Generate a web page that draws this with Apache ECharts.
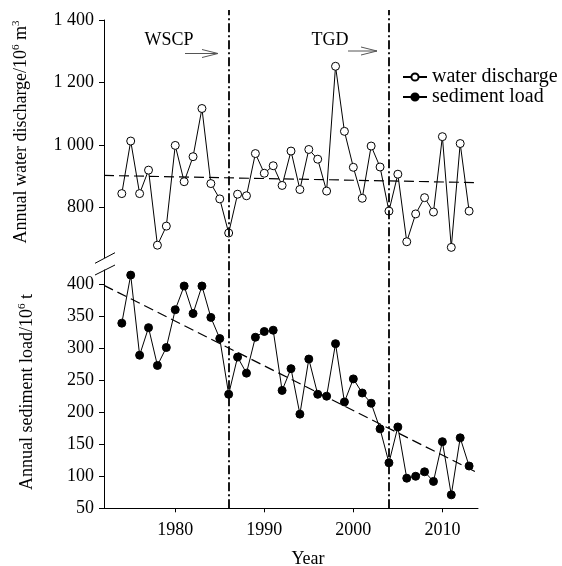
<!DOCTYPE html>
<html>
<head>
<meta charset="utf-8">
<script src="https://cdn.jsdelivr.net/npm/echarts@6/dist/echarts.min.js"></script>
<style>
  html, body { margin: 0; padding: 0; background: #fff; }
  #chart { width: 562px; height: 566px; }
</style>
</head>
<body>
<div id="chart"></div>
<script>
// values, 1974-2013
const years = [1974, 1975, 1976, 1977, 1978, 1979, 1980, 1981, 1982, 1983,
  1984, 1985, 1986, 1987, 1988, 1989, 1990, 1991, 1992, 1993,
  1994, 1995, 1996, 1997, 1998, 1999, 2000, 2001, 2002, 2003,
  2004, 2005, 2006, 2007, 2008, 2009, 2010, 2011, 2012, 2013]
const waterDischarge = [845, 1013, 845, 920, 680, 741, 999, 883, 963, 1117,
  877, 828, 719, 843, 838, 973, 910, 934, 871, 981,
  858, 986, 955, 853, 1252, 1044, 929, 830, 997, 930,
  789, 907, 691, 780, 832, 786, 1027, 673, 1005, 789]
const sedimentLoad = [339, 414, 289, 332, 273, 301, 360, 397, 354, 397,
  348, 315, 228, 286, 261, 317, 326, 328, 234, 268,
  197, 283, 228, 225, 307, 216, 252, 230, 214, 174,
  121, 177, 97, 100, 107, 92, 154, 71, 160, 116]
// linear trend ends
const trendYears = [1972, 2014]
const waterTrend = [903, 880]
const sedimentTrend = [398, 105]
// events (dash-dot lines)
const eventYears = [1986, 2004]
const eventNames = ['WSCP', 'TGD']
// tick labels
const yearTicks = [1980, 1990, 2000, 2010]
const waterTicks = [800, 1000, 1200, 1400]
const sedimentTicks = [50, 100, 150, 200, 250, 300, 350, 400]

const font = "'Liberation Serif', 'Times New Roman', serif"
const black = '#000'

function pairs(xs, ys) {
  return xs.map((x, i) => [x, ys[i]])
}

function thousands(v) {
  return v >= 1000 ? Math.floor(v / 1000) + ' ' + String(v % 1000).padStart(3, '0') : String(v)
}

function yAxisOf(grid, min, max, ticks) {
  return {
    type: 'value',
    gridIndex: grid,
    min: min,
    max: max,
    axisLine: { show: true, onZero: false, lineStyle: { color: black, width: 1 } },
    axisTick: { show: true, customValues: ticks, length: 5, lineStyle: { color: black } },
    axisLabel: { customValues: ticks, margin: 10, color: black, fontSize: 18, fontFamily: font, formatter: thousands },
    splitLine: { show: false }
  }
}

const chart = echarts.init(document.getElementById('chart'))

const sup = { fontSize: 11, fontFamily: font, color: black, verticalAlign: 'top', lineHeight: 12, padding: [0, 0, 0, 0] }
const base = { fontSize: 18, fontFamily: font, color: black, lineHeight: 20 }

const option = {
  animation: false,
  textStyle: { fontFamily: font },
  grid: [
    { left: 104, width: 374, top: 20, height: 237.7 },
    { left: 104, width: 374, top: 270, height: 238.3 },
    { left: 104, width: 374, top: 10, height: 498.3 }
  ],
  xAxis: [
    { type: 'value', gridIndex: 0, min: 1972, max: 2014, show: false },
    {
      type: 'value',
      gridIndex: 1,
      min: 1972,
      max: 2014,
      axisLine: { show: true, onZero: false, lineStyle: { color: black, width: 1 } },
      axisTick: { show: true, customValues: yearTicks, length: 4, lineStyle: { color: black } },
      axisLabel: { customValues: yearTicks, margin: 13, color: black, fontSize: 18, fontFamily: font, formatter: v => String(v) },
      splitLine: { show: false }
    },
    { type: 'value', gridIndex: 2, min: 1972, max: 2014, show: false }
  ],
  yAxis: [
    yAxisOf(0, 640, 1400, waterTicks),
    yAxisOf(1, 50, 422, sedimentTicks),
    { type: 'value', gridIndex: 2, min: 0, max: 1, show: false }
  ],
  legend: {
    orient: 'vertical',
    left: 397,
    top: 62,
    itemWidth: 24,
    itemHeight: 9,
    itemGap: 0,
    textStyle: { fontSize: 20, fontFamily: font, color: black, lineHeight: 19 },
    data: ['water discharge', 'sediment load']
  },
  series: [
    {
      name: 'water discharge',
      type: 'line',
      xAxisIndex: 0,
      yAxisIndex: 0,
      data: pairs(years, waterDischarge),
      symbol: 'circle',
      symbolSize: 8,
      lineStyle: { color: black, width: 1 },
      itemStyle: { color: '#fff', borderColor: black, borderWidth: 1 },
      z: 3
    },
    {
      type: 'line',
      xAxisIndex: 0,
      yAxisIndex: 0,
      data: pairs(trendYears, waterTrend),
      symbol: 'none',
      lineStyle: { color: black, width: 1.2, type: [10, 5] }
    },
    {
      name: 'sediment load',
      type: 'line',
      xAxisIndex: 1,
      yAxisIndex: 1,
      data: pairs(years, sedimentLoad),
      symbol: 'circle',
      symbolSize: 8,
      lineStyle: { color: black, width: 1 },
      itemStyle: { color: black, borderColor: black, borderWidth: 1 },
      z: 3
    },
    {
      type: 'line',
      xAxisIndex: 1,
      yAxisIndex: 1,
      data: pairs(trendYears, sedimentTrend),
      symbol: 'none',
      lineStyle: { color: black, width: 1.2, type: [10, 5] }
    },
    {
      type: 'line',
      xAxisIndex: 2,
      yAxisIndex: 2,
      data: [],
      markLine: {
        silent: true,
        symbol: 'none',
        label: { show: false },
        lineStyle: { color: black, width: 1.8, type: [9, 3, 2, 3] },
        data: eventYears.map(y => ({ xAxis: y }))
      }
    }
  ],
  graphic: [
    // axis titles
    {
      type: 'text', x: 21, y: 132, rotation: Math.PI / 2,
      style: {
        text: '{b|Annual water discharge/10}{s|6}{b| m}{s|3}',
        rich: { b: base, s: sup },
        align: 'center', verticalAlign: 'middle'
      }
    },
    {
      type: 'text', x: 27, y: 392, rotation: Math.PI / 2,
      style: {
        text: '{b|Annual sediment load/10}{s|6}{b| t}',
        rich: { b: base, s: sup },
        align: 'center', verticalAlign: 'middle'
      }
    },
    {
      type: 'text', x: 308, y: 559,
      style: { text: 'Year', fontSize: 18, fontFamily: font, fill: black, align: 'center', verticalAlign: 'middle' }
    },
    // event labels and arrows
    {
      type: 'text', x: 169, y: 40,
      style: { text: eventNames[0], fontSize: 18, fontFamily: font, fill: black, align: 'center', verticalAlign: 'middle' }
    },
    {
      type: 'text', x: 330, y: 40,
      style: { text: eventNames[1], fontSize: 18, fontFamily: font, fill: black, align: 'center', verticalAlign: 'middle' }
    },
    { type: 'polyline', shape: { points: [[185, 53.5], [218, 53.5]] }, style: { stroke: '#555', lineWidth: 1 } },
    { type: 'polyline', shape: { points: [[202, 49.5], [218, 53.5], [202, 57.5]] }, style: { stroke: '#555', lineWidth: 1, fill: null } },
    { type: 'polyline', shape: { points: [[348, 51], [377, 51]] }, style: { stroke: '#555', lineWidth: 1 } },
    { type: 'polyline', shape: { points: [[361, 47], [377, 51], [361, 55]] }, style: { stroke: '#555', lineWidth: 1, fill: null } },
    // axis break marks
    { type: 'line', shape: { x1: 95, y1: 263.3, x2: 115, y2: 252.7 }, style: { stroke: black, lineWidth: 1 } },
    { type: 'line', shape: { x1: 95, y1: 275, x2: 115, y2: 265 }, style: { stroke: black, lineWidth: 1 } }
  ]
}

chart.setOption(option)
</script>
</body>
</html>
